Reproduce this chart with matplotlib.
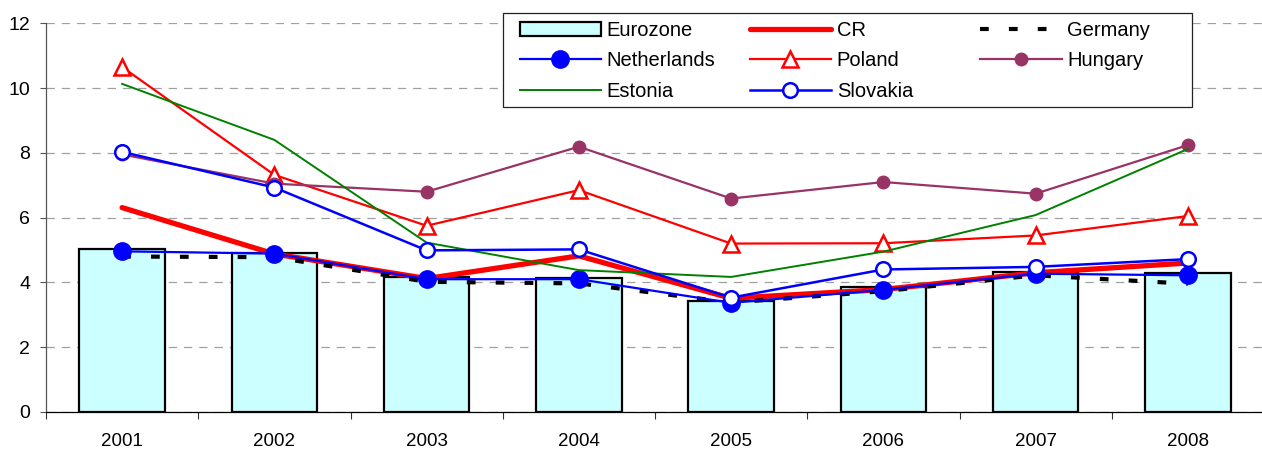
import matplotlib
matplotlib.use("Agg")
import matplotlib.pyplot as plt
from matplotlib.patches import Rectangle
import numpy as np

plt.rcParams['font.family'] = ['Liberation Sans', 'DejaVu Sans']
plt.rcParams['lines.scale_dashes'] = False

years = ['2001', '2002', '2003', '2004', '2005', '2006', '2007', '2008']
eurozone = [5.03, 4.92, 4.16, 4.14, 3.44, 3.86, 4.33, 4.30]
cr = [6.31, 4.88, 4.12, 4.82, 3.51, 3.78, 4.30, 4.60]
germany = [4.80, 4.78, 4.02, 3.97, 3.38, 3.73, 4.22, 3.96]
netherlands = [4.96, 4.89, 4.10, 4.10, 3.37, 3.77, 4.27, 4.22]
poland = [10.65, 7.32, 5.75, 6.85, 5.20, 5.21, 5.45, 6.05]
hungary = [7.95, 7.05, 6.80, 8.19, 6.59, 7.10, 6.74, 8.24]
estonia = [10.13, 8.40, 5.23, 4.38, 4.17, 4.95, 6.08, 8.12]
slovakia = [8.03, 6.93, 4.99, 5.02, 3.53, 4.40, 4.48, 4.72]

W, H = 1262, 450
fig = plt.figure(figsize=(W / 100, H / 100), dpi=100)
ax = fig.add_axes([46 / W, (H - 412) / H, 1218 / W, (412 - 23.3) / H])

x = np.arange(len(years))
BLUE = '#0000FF'
RED = '#FF0000'
PURPLE = '#993366'
GREEN = '#008000'

bars = ax.bar(x, eurozone, width=0.56, color='#CCFFFF', edgecolor='black',
              linewidth=1.6, label='Eurozone', zorder=2)
l_cr, = ax.plot(x, cr, color=RED, lw=3.8, label='CR', zorder=3,
                solid_capstyle='round')
l_de, = ax.plot(x, germany, color='black', lw=3.0, linestyle=(0, (6.3, 14.5)),
                label='Germany', zorder=3)
l_nl, = ax.plot(x, netherlands, color=BLUE, lw=1.6, marker='o', ms=12.5,
                mfc=BLUE, mec=BLUE, label='Netherlands', zorder=4)
l_pl, = ax.plot(x, poland, color=RED, lw=1.6, marker='^', ms=11,
                mfc='white', mec=RED, mew=1.8, label='Poland', zorder=4)
l_hu, = ax.plot(x, hungary, color=PURPLE, lw=1.6, marker='o', ms=9,
                mfc=PURPLE, mec=PURPLE, label='Hungary', zorder=4)
l_ee, = ax.plot(x, estonia, color=GREEN, lw=1.4, label='Estonia', zorder=4)
l_sk, = ax.plot(x, slovakia, color=BLUE, lw=1.8, marker='o', ms=10.5,
                mfc='white', mec=BLUE, mew=1.8, label='Slovakia', zorder=5)

ax.set_xlim(-0.5, len(years) - 0.5)
ax.set_ylim(0, 12)
ax.set_yticks(np.arange(0, 13, 2))
ax.set_xticks(x)
ax.set_xticklabels(years)
ax.set_xticks(np.arange(-0.5, len(years)), minor=True)
ax.tick_params(axis='x', which='major', length=0, pad=15, labelsize=13.5)
ax.tick_params(axis='x', which='minor', length=5, width=0.8, direction='out',
               color='#333333')
ax.tick_params(axis='y', length=4.3, width=0.8, direction='out', pad=7,
               labelsize=14, color='#555555')

ax.set_axisbelow(True)
ax.yaxis.grid(True, color='#A0A0A0', linestyle=(0, (6, 5)), linewidth=0.9)
ax.spines['top'].set_visible(False)
ax.spines['right'].set_visible(False)
ax.spines['left'].set_color('#555555')
ax.spines['left'].set_linewidth(0.9)
ax.spines['bottom'].set_color('black')
ax.spines['bottom'].set_linewidth(0.9)

# Legend: three evenly spaced columns inside one shared frame
columns = [
    ([bars, l_nl, l_ee], ['Eurozone', 'Netherlands', 'Estonia'], 519.5),
    ([l_cr, l_pl, l_sk], ['CR', 'Poland', 'Slovakia'], 749.5),
    ([l_de, l_hu], ['Germany', 'Hungary'], 980),
]
for handles, labels, xpix in columns:
    leg = fig.legend(handles, labels, loc='upper left',
                     bbox_to_anchor=(xpix / W, 1 - 20.8 / H),
                     bbox_transform=fig.transFigure, frameon=False,
                     borderpad=0, borderaxespad=0, handlelength=4.05,
                     handletextpad=0.28, labelspacing=0.57, fontsize=14.5)
    leg.set_zorder(10)

frame = Rectangle((503 / W, 1 - 106.7 / H), (1192 - 503) / W, (106.7 - 12.7) / H,
                  transform=fig.transFigure, facecolor='white',
                  edgecolor='#222222', linewidth=0.9, zorder=9)
fig.patches.append(frame)

fig.savefig('out.png', dpi=100)
